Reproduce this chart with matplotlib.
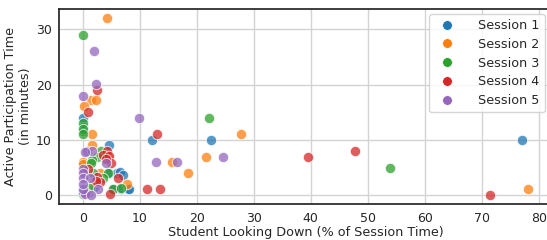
import matplotlib
matplotlib.use('Agg')
import matplotlib.pyplot as plt
import seaborn as sns
from matplotlib.lines import Line2D

sessions = ['Session 1', 'Session 2', 'Session 3', 'Session 4', 'Session 5']
colors = ['#1f77b4', '#ff7f0e', '#2ca02c', '#d62728', '#9467bd']

# looking down (% of session time) / active participation (minutes), one pair of lists per session
s1_x = [0, 0, 0, 4.7, 4.6, 6.0, 6.5, 7.1, 5.4, 6.7, 7.9, 8.2, 12.2, 22.5, 77.1, 0, 1.0, 2.0]
s1_y = [14, 12.4, 11.6, 9.0, 3.9, 3.9, 4.2, 3.6, 1.0, 1.0, 1.0, 1.0, 9.9, 9.9, 9.9, 0.5, 0.3, 1.5]
s2_x = [4.2, 1.5, 2.3, 0.2, 1.7, 1.7, 0, 0, 7.7, 15.6, 18.5, 21.6, 27.7, 78.2, 3.0, 0.5, 2.0, 4.5]
s2_y = [32, 17.2, 17.2, 16.1, 11.0, 9.0, 6.0, 5.7, 2.0, 6.0, 4.0, 6.9, 11.0, 1.0, 4.0, 0.8, 2.3, 6.8]
s3_x = [0, 0, 0, 0, 3.3, 2.5, 1.6, 1.5, 1.9, 4.5, 5.3, 6.8, 22.2, 54.0, 1.2, 0, 3.5]
s3_y = [29, 13.0, 12.0, 11.0, 8.0, 6.9, 6.3, 5.8, 3.9, 3.9, 1.0, 1.2, 14.0, 4.9, 1.2, 0.2, 3.0]
s4_x = [2.6, 1.0, 4.2, 3.5, 4.6, 4.9, 4.1, 1.0, 2.5, 3.0, 6.2, 4.8, 11.3, 13.6, 13.1, 39.5, 47.7, 71.5, 2.3, 0.5]
s4_y = [19.0, 15.1, 8.0, 7.2, 7.0, 5.8, 6.6, 4.8, 3.3, 2.4, 3.0, 0.1, 1.0, 1.0, 11.0, 6.9, 8.0, 0.0, 2.6, 0.3]
s5_x = [2.0, 2.3, 0, 9.8, 0.8, 1.6, 0.4, 4.1, 0, 0, 0, 1.3, 2.7, 0.1, 0.4, 12.8, 16.6, 24.7, 0, 1.5, 0]
s5_y = [26, 20.1, 18.0, 14.0, 8.0, 8.0, 7.8, 5.8, 4.8, 3.9, 3.0, 3.0, 1.0, 0.6, 0.2, 6.0, 6.0, 6.9, 1.0, 0.0, 2.0]

xs = [s1_x, s2_x, s3_x, s4_x, s5_x]
ys = [s1_y, s2_y, s3_y, s4_y, s5_y]

sns.set_style('whitegrid')
plt.rcParams['font.family'] = ['DejaVu Sans']
plt.rcParams['axes.edgecolor'] = '.15'
plt.rcParams['axes.linewidth'] = 1.25

fig = plt.figure(figsize=(5.47, 2.4), dpi=100)
# axes runs past the right edge: the reference is cropped there
ax = fig.add_axes([59.3/547, 35.7/240, 493.6/547, 195.3/240])
ax.spines['right'].set_visible(False)

for x, y, c in zip(xs, ys, colors):
    ax.scatter(x, y, s=55, color=c, alpha=0.75, edgecolor='white', linewidth=0.7, zorder=3)

ax.set_xlim(-4.1, 82.5)
ax.set_ylim(-1.68, 33.68)
ax.set_xticks(range(0, 90, 10))
ax.set_yticks([0, 10, 20, 30])
ax.tick_params(labelsize=9, colors='.15', pad=2)
ax.grid(color='#d3d3d3', lw=1)
ax.set_xlabel('Student Looking Down (% of Session Time)', fontsize=9.2, color='.15', labelpad=1)
ax.set_ylabel('Active Participation Time\n(in minutes)', fontsize=9.2, color='.15', labelpad=3)

handles = [Line2D([], [], marker='o', ls='', color=c, markersize=7, markeredgecolor='white', markeredgewidth=0.5)
           for c in colors]
ax.legend(handles, sessions, loc='upper right', fontsize=9.2, frameon=True, framealpha=0.8,
          bbox_to_anchor=(544.5/547, 1 - 14/240), bbox_transform=fig.transFigure, borderaxespad=0,
          handletextpad=1.4, labelspacing=0.45)

fig.savefig('out.png', dpi=100)
